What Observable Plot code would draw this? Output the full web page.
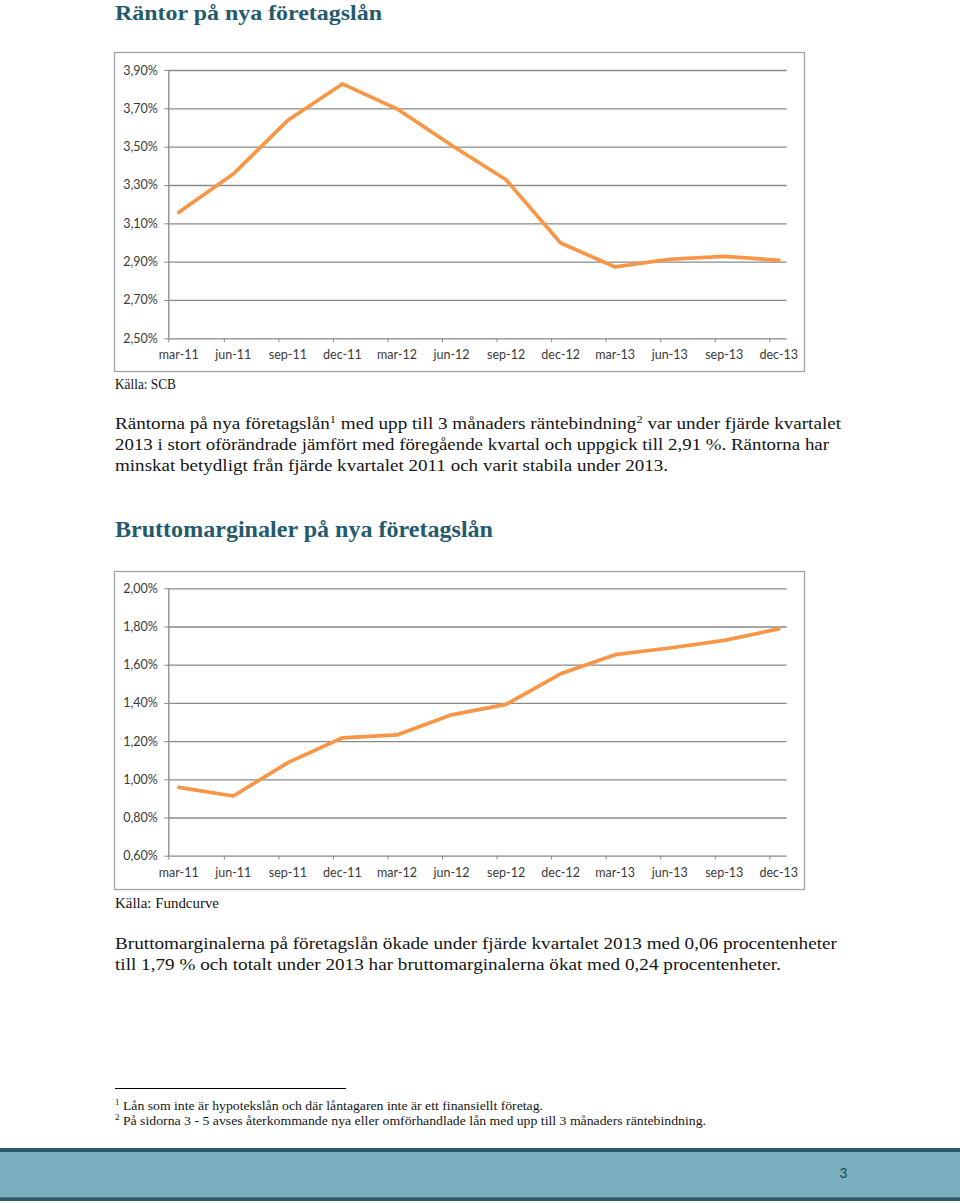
<!DOCTYPE html>
<html><head><meta charset="utf-8">
<script src="https://cdn.jsdelivr.net/npm/d3@7"></script>
<script src="https://cdn.jsdelivr.net/npm/@observablehq/plot@0.6"></script>
<style>
html,body{margin:0;padding:0;background:#fff;}
#page{position:relative;width:960px;height:1203px;overflow:hidden;background:#fff;}
.chart{position:absolute;}
#overlay{position:absolute;left:0;top:0;pointer-events:none;}
</style></head><body><div id="page"></div>
<script>
// ---------- data ----------
const quarters = ["mar-11","jun-11","sep-11","dec-11","mar-12","jun-12","sep-12","dec-12","mar-13","jun-13","sep-13","dec-13"];
const rantor = [3.16, 3.36, 3.64, 3.83, 3.70, 3.51, 3.33, 3.00, 2.875, 2.915, 2.93, 2.91];
const brutto = [0.96, 0.915, 1.09, 1.22, 1.235, 1.34, 1.395, 1.555, 1.655, 1.69, 1.73, 1.79];
const rantorTicks = [2.5, 2.7, 2.9, 3.1, 3.3, 3.5, 3.7, 3.9];
const rantorTickLabels = ["2,50%","2,70%","2,90%","3,10%","3,30%","3,50%","3,70%","3,90%"];
const bruttoTicks = [0.6, 0.8, 1.0, 1.2, 1.4, 1.6, 1.8, 2.0];
const bruttoTickLabels = ["0,60%","0,80%","1,00%","1,20%","1,40%","1,60%","1,80%","2,00%"];

const title1 = "Räntor på nya företagslån";
const title2 = "Bruttomarginaler på nya företagslån";
const source1 = "Källa: SCB";
const source2 = "Källa: Fundcurve";

// ---------- charts ----------
const page = document.getElementById("page");
const xDomain = [-0.183, 11.154];

function makeChart(values, ticks, tickLabels, cfg) {
  const data = values.map((v, i) => ({i, v}));
  const idx = quarters.map((q, i) => i);
  const tickMarks = [xDomain[0], ...idx.slice(1).map(i => i - 0.165)];
  const gray = "#8a8a8a";
  const svg = Plot.plot({
    width: 691, height: cfg.height,
    marginLeft: 54.3, marginRight: 18.3, marginTop: cfg.mt, marginBottom: cfg.mb,
    style: {background: "transparent", fontFamily: "Lato, 'Open Sans', sans-serif", fontSize: "12.5px", color: "#3a3a3a"},
    x: {domain: xDomain, axis: null, label: null},
    y: {domain: [ticks[0], ticks[ticks.length - 1]], axis: null, label: null},
    marks: [
      Plot.gridY(ticks, {stroke: gray, strokeOpacity: 1, strokeWidth: 1.3}),
      Plot.ruleX([xDomain[0]], {stroke: gray, strokeWidth: 1.3}),
      Plot.axisY(ticks, {tickSize: 4, tickPadding: 7, stroke: gray, fill: "#3a3a3a", label: null,
        tickFormat: d => tickLabels[ticks.indexOf(d)]}),
      Plot.axisX(tickMarks, {tickSize: 4, stroke: gray, tickFormat: () => "", label: null}),
      Plot.axisX(idx, {tickSize: 0, tickPadding: 11.5, fill: "#3a3a3a", label: null,
        tickFormat: i => quarters[i]}),
      Plot.line(data, {x: "i", y: "v", stroke: "#f79646", strokeWidth: 3.7, strokeLinejoin: "round", strokeLinecap: "round"})
    ]
  });
  svg.classList.add("chart");
  svg.style.left = cfg.left + "px";
  svg.style.top = cfg.top + "px";
  page.appendChild(svg);
}

makeChart(rantor, rantorTicks, rantorTickLabels, {left: 114, top: 52, height: 320, mt: 18, mb: 33.7});
makeChart(brutto, bruttoTicks, bruttoTickLabels, {left: 114, top: 571, height: 319, mt: 17.3, mb: 34.3});

// ---------- page text overlay ----------
const NS = "http://www.w3.org/2000/svg";
const ov = document.createElementNS(NS, "svg");
ov.setAttribute("id", "overlay");
ov.setAttribute("width", 960);
ov.setAttribute("height", 1203);
page.appendChild(ov);

function el(tag, attrs, parent) {
  const e = document.createElementNS(NS, tag);
  for (const k in attrs) e.setAttribute(k, attrs[k]);
  (parent || ov).appendChild(e);
  return e;
}
// parts: array of strings or {sup: "1"}
function textLine(parts, x, y, w, size, opts = {}) {
  const t = el("text", {x, y, "font-family": "'Liberation Serif', serif", "font-size": size,
    fill: opts.fill || "#141414", "font-weight": opts.weight || "normal",
    textLength: w, lengthAdjust: "spacingAndGlyphs"});
  const shift = size * 0.38;
  let pending = 0;
  for (const p of (Array.isArray(parts) ? parts : [parts])) {
    if (typeof p === "string") {
      const s = el("tspan", pending ? {dy: pending} : {}, t); s.textContent = p;
      pending = 0;
    } else {
      const s = el("tspan", {dy: -shift, "font-size": size * 0.65}, t); s.textContent = p.sup;
      pending = shift;
    }
  }
  return t;
}

// frames
el("rect", {x: 114.5, y: 52.5, width: 690, height: 319, fill: "none", stroke: "#a3a3a3", "stroke-width": 1.3});
el("rect", {x: 114.5, y: 571.5, width: 690, height: 318, fill: "none", stroke: "#a3a3a3", "stroke-width": 1.3});

const teal = "#245a6b";
textLine(title1, 115, 20, 267, 22, {weight: "bold", fill: teal});
textLine(source1, 115, 389.3, 61, 15);
textLine(["Räntorna på nya företagslån", {sup: "1"}, " med upp till 3 månaders räntebindning", {sup: "2"}, " var under fjärde kvartalet"], 115, 429.3, 726, 16.5);
textLine("2013 i stort oförändrade jämfört med föregående kvartal och uppgick till 2,91 %. Räntorna har", 115, 450, 714, 16.5);
textLine("minskat betydligt från fjärde kvartalet 2011 och varit stabila under 2013.", 115, 470.7, 553, 16.5);

textLine(title2, 115, 536.7, 378, 23.5, {weight: "bold", fill: teal});
textLine(source2, 115, 907.7, 104, 15);
textLine("Bruttomarginalerna på företagslån ökade under fjärde kvartalet 2013 med 0,06 procentenheter", 115, 948.5, 722, 16.5);
textLine("till 1,79 % och totalt under 2013 har bruttomarginalerna ökat med 0,24 procentenheter.", 115, 969.5, 666, 16.5);

// footnotes
el("line", {x1: 115, x2: 346, y1: 1088.5, y2: 1088.5, stroke: "#000", "stroke-width": 1});
textLine([{sup: "1"}, " Lån som inte är hypotekslån och där låntagaren inte är ett finansiellt företag."], 115, 1109.5, 428, 12.5);
textLine([{sup: "2"}, " På sidorna 3 - 5 avses återkommande nya eller omförhandlade lån med upp till 3 månaders räntebindning."], 115, 1124.5, 591, 12.5);

// bottom band
el("rect", {x: 0, y: 1148, width: 960, height: 53, fill: "#2d5a69"});
el("rect", {x: 0, y: 1152, width: 960, height: 45.3, fill: "#79afbf"});
const pn = el("text", {x: 843.5, y: 1178, "text-anchor": "middle", "font-family": "Lato, sans-serif", "font-size": 13.5, fill: "#1f3e4c"});
pn.textContent = "3";
</script></body></html>
